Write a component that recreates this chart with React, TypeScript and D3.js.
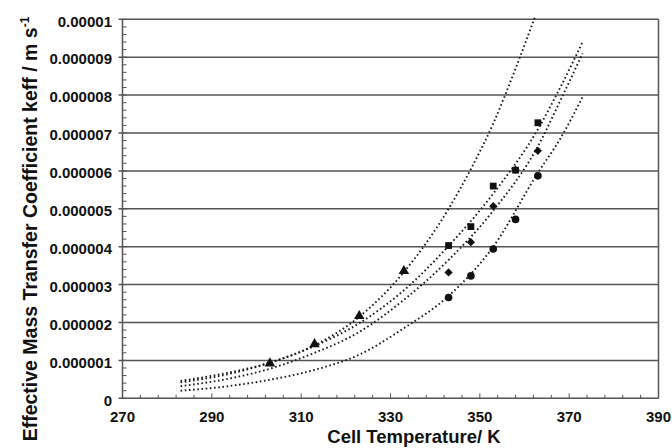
import React from 'react';
import * as d3 from 'd3';

// measured points (keff, m/s)
const triangleT = [303, 313, 323, 333];
const triangleK = [0.92e-6, 1.43e-6, 2.17e-6, 3.36e-6];

const pointT = [343, 348, 353, 358, 363];
const squareK = [4.03e-6, 4.53e-6, 5.6e-6, 6.02e-6, 7.27e-6];
const diamondK = [3.32e-6, 4.12e-6, 5.07e-6, 6.03e-6, 6.53e-6];
const circleK = [2.66e-6, 3.23e-6, 3.94e-6, 4.72e-6, 5.87e-6];

// trend lines
const fitAT = [283, 293, 303, 313, 323, 333, 343, 348, 353, 358, 362.3];
const fitAK = [0.42e-6, 0.62e-6, 0.94e-6, 1.4e-6, 2.15e-6, 3.33e-6, 5.0e-6, 6.05e-6, 7.25e-6, 8.7e-6, 10.05e-6];

const fitT = [283, 293, 303, 313, 323, 333, 343, 353, 363, 368, 373];
const fitBK = [0.46e-6, 0.66e-6, 0.94e-6, 1.38e-6, 1.98e-6, 2.85e-6, 4.02e-6, 5.4e-6, 7.1e-6, 8.2e-6, 9.4e-6];
const fitCK = [0.32e-6, 0.5e-6, 0.78e-6, 1.2e-6, 1.75e-6, 2.6e-6, 3.65e-6, 4.95e-6, 6.65e-6, 7.85e-6, 9.1e-6];
const fitDK = [0.2e-6, 0.31e-6, 0.49e-6, 0.75e-6, 1.15e-6, 1.85e-6, 2.7e-6, 4.0e-6, 5.95e-6, 6.85e-6, 7.95e-6];

const xTicks = [270, 290, 310, 330, 350, 370, 390];
const yTicks = [0, 1e-6, 2e-6, 3e-6, 4e-6, 5e-6, 6e-6, 7e-6, 8e-6, 9e-6, 1e-5];
const yTickLabels = ['0', '0.000001', '0.000002', '0.000003', '0.000004', '0.000005',
  '0.000006', '0.000007', '0.000008', '0.000009', '0.00001'];

const font = "'Liberation Sans', Arial, Helvetica, sans-serif";
const ink = '#111';
const gridColor = '#555';

export default function App() {
  const x = d3.scaleLinear().domain([270, 390]).range([122.5, 658.5]);
  const y = d3.scaleLinear().domain([0, 1e-5]).range([398.3, 19.3]);

  const line = d3
    .line<[number, number]>()
    .x((d) => x(d[0]))
    .y((d) => y(d[1]))
    .curve(d3.curveMonotoneX);

  const fits = [
    fitAT.map((t, i) => [t, fitAK[i]] as [number, number]),
    fitT.map((t, i) => [t, fitBK[i]] as [number, number]),
    fitT.map((t, i) => [t, fitCK[i]] as [number, number]),
    fitT.map((t, i) => [t, fitDK[i]] as [number, number]),
  ];

  const minorX = d3.range(270, 391, 4);
  const minorY = d3.range(0, 51).map((i) => i * 2e-7);

  const tri = d3.symbol().type(d3.symbolTriangle).size(48)()!;
  const sq = d3.symbol().type(d3.symbolSquare).size(46)()!;
  const dia = d3.symbol().type(d3.symbolSquare).size(34)()!;
  const circ = d3.symbol().type(d3.symbolCircle).size(46)()!;

  const [x0, x1] = x.range();
  const [y0, y1] = y.range();

  return (
    <div style={{ position: 'absolute', left: 0, top: 0 }}>
      <svg width={672} height={448} style={{ display: 'block', background: '#fff' }}>
        {/* grid lines */}
        {yTicks.slice(1).map((v) => (
          <line key={'g' + v} x1={x0 - 4} x2={x1} y1={y(v)} y2={y(v)} stroke={gridColor} strokeWidth={1.5} />
        ))}
        {/* frame */}
        <line x1={x0} x2={x0} y1={y1} y2={y0} stroke={gridColor} strokeWidth={1.5} />
        <line x1={x1} x2={x1} y1={y1} y2={y0} stroke={gridColor} strokeWidth={1.5} />
        <line x1={x0 - 4} x2={x1} y1={y0} y2={y0} stroke={gridColor} strokeWidth={1.5} />

        {/* minor ticks */}
        {minorY.map((v, i) => (
          <line key={'my' + i} x1={x0} x2={x0 + 4} y1={y(v)} y2={y(v)} stroke={gridColor} strokeWidth={1} />
        ))}
        {minorX.map((t) => (
          <line key={'mx' + t} x1={x(t)} x2={x(t)} y1={y0} y2={y0 - ((t - 270) % 20 === 0 ? 5 : 3.5)}
            stroke={gridColor} strokeWidth={1} />
        ))}

        {/* tick labels */}
        {yTicks.map((v, i) => (
          <text key={'yl' + i} x={112} y={y(v) + 2} dy="0.35em" textAnchor="end"
            fontFamily={font} fontWeight="bold" fontSize={15} fill={ink}>
            {yTickLabels[i]}
          </text>
        ))}
        {xTicks.map((t) => (
          <text key={'xl' + t} x={x(t)} y={422} textAnchor="middle"
            fontFamily={font} fontWeight="bold" fontSize={15} fill={ink}>
            {t}
          </text>
        ))}

        {/* trend lines */}
        {fits.map((pts, i) => (
          <path key={'f' + i} d={line(pts)!} fill="none" stroke="#1a1a1a" strokeWidth={1.9}
            strokeDasharray="1.6 2.6" />
        ))}

        {/* markers */}
        {triangleT.map((t, i) => (
          <path key={'t' + i} d={tri} transform={`translate(${x(t)},${y(triangleK[i])})`} fill={ink} />
        ))}
        {pointT.map((t, i) => (
          <path key={'s' + i} d={sq} transform={`translate(${x(t)},${y(squareK[i])})`} fill={ink} />
        ))}
        {pointT.map((t, i) => (
          <path key={'d' + i} d={dia} transform={`translate(${x(t)},${y(diamondK[i])}) rotate(45)`} fill={ink} />
        ))}
        {pointT.map((t, i) => (
          <path key={'c' + i} d={circ} transform={`translate(${x(t)},${y(circleK[i])})`} fill={ink} />
        ))}

        {/* axis titles */}
        <text x={414} y={443} textAnchor="middle" fontFamily={font} fontWeight="bold" fontSize={18.5} fill={ink}>
          Cell Temperature/ K
        </text>
        <text transform="translate(36.5,229) rotate(-90)" textAnchor="middle"
          fontFamily={font} fontWeight="bold" fontSize={19.5} fill={ink}>
          Effective Mass Transfer Coefficient keff / m s
          <tspan fontSize={12} dy={-8}>-1</tspan>
        </text>
      </svg>
    </div>
  );
}
